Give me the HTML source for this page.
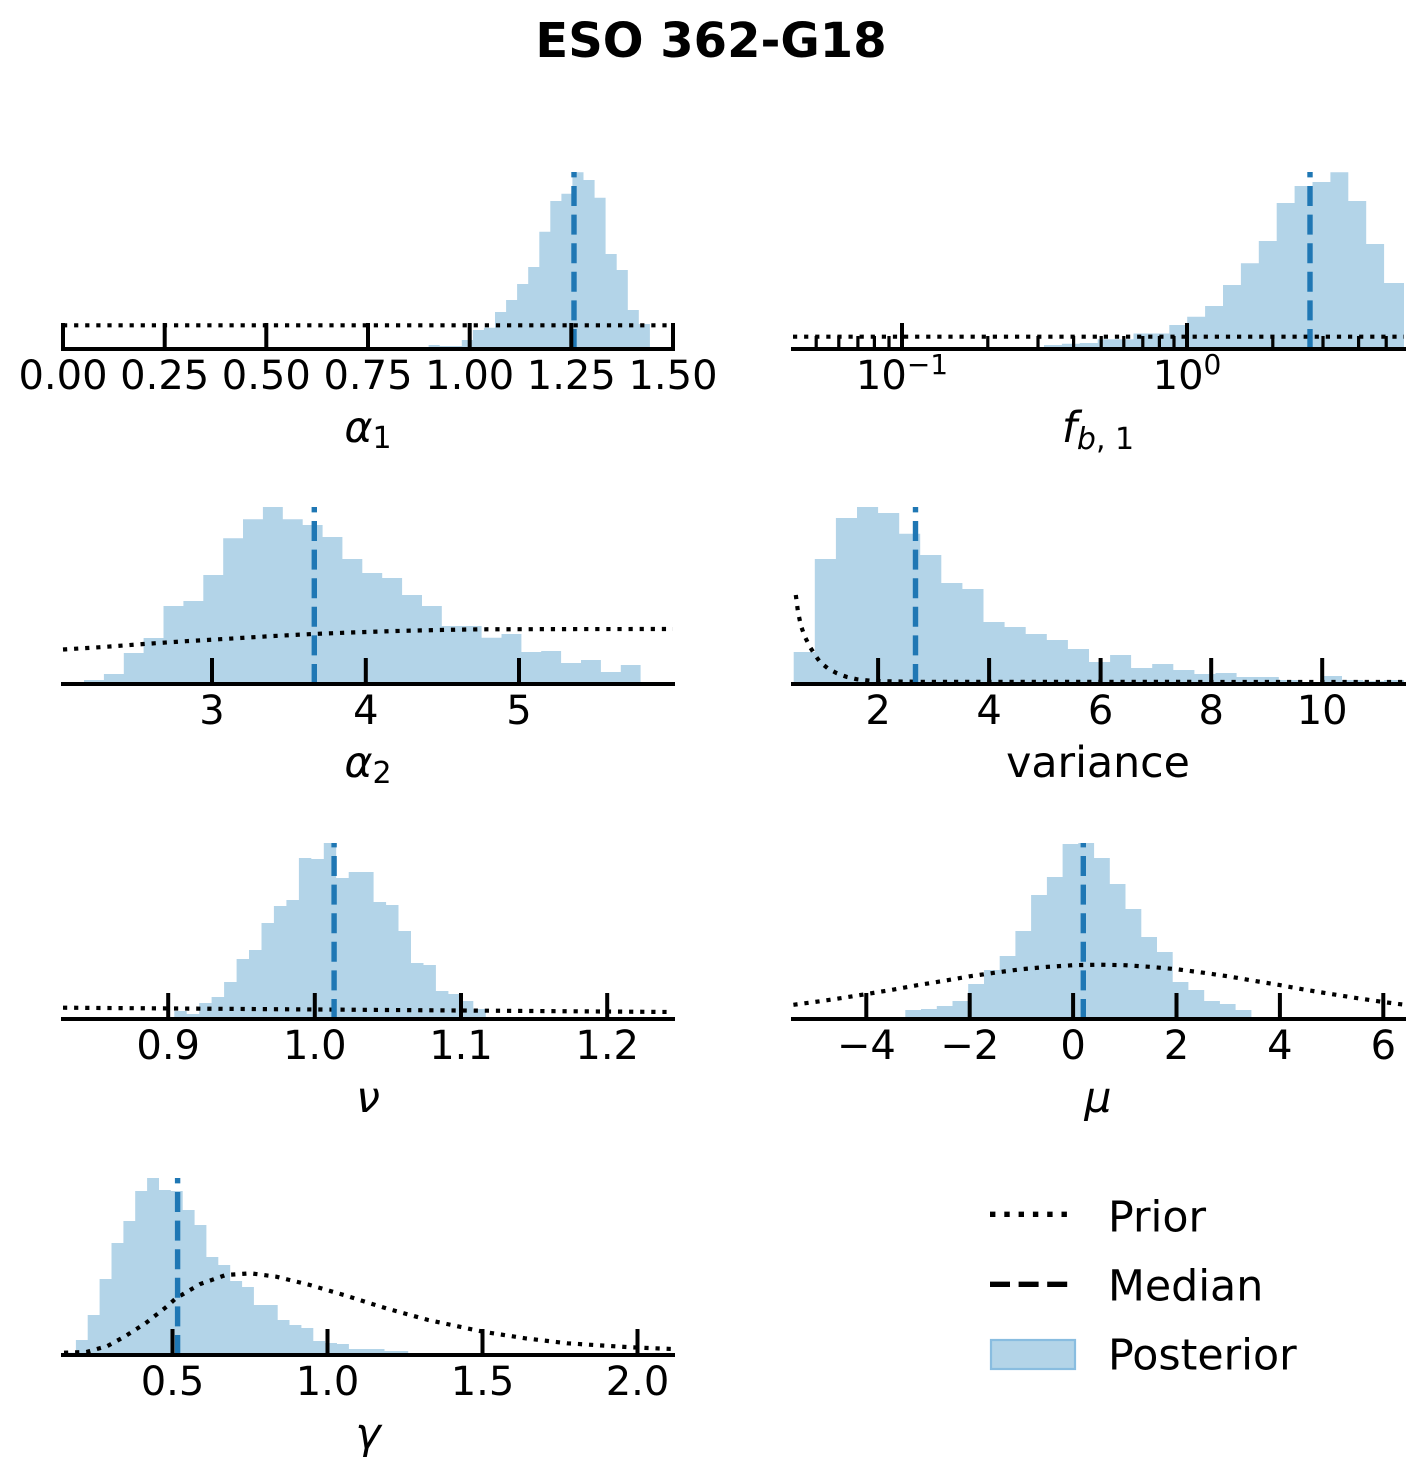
<!DOCTYPE html>
<html><head><meta charset="utf-8"><style>
html,body{margin:0;padding:0;background:#fff;}
svg{display:block;}
text{font-family:"DejaVu Sans","Liberation Sans",sans-serif;fill:#000;}
</style></head><body>
<svg width="1422" height="1476" viewBox="0 0 1422 1476" xmlns="http://www.w3.org/2000/svg">
<rect width="1422" height="1476" fill="#fff"/>
<text x="711" y="57" text-anchor="middle" font-size="48" font-weight="bold">ESO 362-G18</text>

<!-- histograms -->
<g fill="#b3d4e8" stroke="none">
<path d="M395.5,349V347.3H428.6V345H439.7V346H461.8V340H472.9V330H483.9V327.7H495V312H506.1V300H517.1V284H528.2V267H539.3V231.7H550.3V201H561.4V193.7H572.4V172.3H583.5V180H594.6V197.7H605.6V254H616.7V270H627.8V310H638.8V324H649.9V349Z"/>
<path d="M990.3,349V347.3H1026.1V349H1044V345H1061.9V343.7H1079.8V343H1097.7V339.3H1133.5V333.5H1169.3V325H1187.2V316.7H1205.1V306H1223V285H1240.9V263.3H1258.8V241H1276.7V203H1294.6V186H1312.5V182H1330.4V172.3H1348.3V201H1366.2V244H1384.1V283H1404V349Z"/>
<path d="M84,684V680H103.9V674H123.8V653H143.6V638H163.5V606H183.4V601H203.3V575H223.2V538.3H243V519.3H262.9V507H282.8V519.3H302.7V525H322.6V537H342.4V559H362.3V573H382.2V578H402.1V595H422V606H441.8V626H481.6V637.7H501.5V634H521.4V652H541.2V651H561.1V663H581V660H600.9V672H620.8V665H640.6V684Z"/>
<path d="M793.7,684V652H814.8V559H835.9V518H857V507H878.1V513H899.2V533.7H920.2V555H941.3V583H962.4V589H983.5V622H1004.6V627H1025.7V634H1046.8V640H1067.9V649H1089V662H1110.1V655H1131.1V668H1152.2V664H1173.3V670H1194.4V674H1215.5V673H1236.6V677H1278.8V680H1299.9V682H1321V676H1342V680H1363.1V681.3H1384.2V680H1404V684Z"/>
<path d="M161.8,1019V1017.3H174.3V1011H186.7V1014H199.2V1003H211.6V997H224.1V982H236.6V959H249V950H261.5V923H273.9V906H286.4V900H298.9V858H311.3V859H323.8V843H336.2V878H348.7V872H373.6V902H386.1V905H398.5V931H411V963H423.5V965H435.9V991H448.4V994H460.8V1001H473.3V1009H485.8V1019Z"/>
<path d="M858.1,1019V1017.3H889.6V1019H905.3V1010H921V1009H936.8V1006H952.5V1001H968.2V984H984V970H999.7V956H1015.4V931H1031.1V895H1046.9V877H1062.6V844H1078.3V843H1094.1V858H1109.8V884H1125.5V909H1141.3V937H1157V952H1172.7V982H1188.4V990H1204.2V1001H1219.9V1004H1235.6V1010H1251.4V1019Z"/>
<path d="M64,1355V1352.7H75.9V1340H87.7V1315H99.6V1279H111.5V1243H123.4V1221H135.2V1191H147.1V1178H159V1190H170.8V1191H182.7V1210H194.6V1225H206.4V1257H218.3V1265H230.2V1281H242.1V1287H253.9V1305H277.7V1320H289.5V1325H301.4V1328H313.3V1341H325.1V1343H337V1344H348.9V1349H384.5V1351H408.2V1355Z"/>
</g>

<!-- priors -->
<g fill="none" stroke="#000" stroke-width="4.2" stroke-dasharray="4.2 6.9">
<line x1="63" y1="325.3" x2="673" y2="325.3"/>
<line x1="793" y1="336.7" x2="1404" y2="336.7"/>
<polyline points="63,649.5 103,647 143.6,644 186,641.2 228.8,638.7 270,636.2 312.6,634 354,632.4 396.5,631 438,630 480.4,629.3 560,629.1 673,629"/>
<polyline points="795.8,595 798,612 801,626 805,637 810,647 815,655 820,662 828,668.5 837,673.3 847,677 857,679.3 870,680.7 885,681.3 920,681.8 1404,682"/>
<line x1="63" y1="1007.7" x2="673" y2="1012"/>
<polyline points="793.4,1004.8 814.6,1002 840.5,998.2 866.3,994.1 892,989.8 918,985.1 944,980.8 969.7,976.3 995.5,972.6 1021.4,969.2 1047,966.9 1073.1,965.2 1099,964.7 1124.8,965.2 1150.7,966.9 1176.5,969.2 1202.3,972.6 1228.2,976.3 1254,980.8 1279.9,985.1 1305.7,989.8 1331.6,994.1 1357.5,998.2 1383.3,1002 1405,1004.8"/>
<polyline points="64,1352.7 86.4,1352 107.5,1346 124.4,1336.7 145.5,1323.3 166.6,1306.7 175.9,1298.3 200.3,1284 225.7,1275 251,1273.3 276.3,1276.7 310,1285 343.8,1295 386,1308.3 428.2,1320 483,1331.7 525.2,1338.3 567.4,1343.3 630.7,1347.3 673,1349"/>
</g>

<!-- medians -->
<g stroke="#1f77b4" stroke-width="5.4" stroke-dasharray="20 8.6" fill="none">
<line x1="574" y1="349" x2="574" y2="172"/>
<line x1="1310" y1="349" x2="1310" y2="172"/>
<line x1="314.3" y1="684" x2="314.3" y2="507"/>
<line x1="915.5" y1="684" x2="915.5" y2="507"/>
<line x1="334.1" y1="1019" x2="334.1" y2="843"/>
<line x1="1083.3" y1="1019" x2="1083.3" y2="843"/>
<line x1="177.6" y1="1355" x2="177.6" y2="1178"/>
</g>

<!-- spines -->
<g stroke="#000" stroke-width="4" stroke-linecap="square">
<line x1="63" y1="349" x2="673" y2="349"/>
<line x1="793" y1="349" x2="1404" y2="349"/>
<line x1="63" y1="684" x2="673" y2="684"/>
<line x1="793" y1="684" x2="1404" y2="684"/>
<line x1="63" y1="1019" x2="673" y2="1019"/>
<line x1="793" y1="1019" x2="1404" y2="1019"/>
<line x1="63" y1="1355" x2="673" y2="1355"/>
</g>

<!-- ticks -->
<g stroke="#000" stroke-width="4">
<path d="M63,349V323M164.7,349V323M266.3,349V323M368,349V323M469.7,349V323M571.3,349V323M673,349V323"/>
<path d="M902,349V323M1187,349V323"/>
<path d="M816.2,349V336M838.8,349V336M857.9,349V336M874.4,349V336M889,349V336M987.8,349V336M1038,349V336M1073.6,349V336M1101.2,349V336M1123.8,349V336M1142.8,349V336M1159.4,349V336M1174,349V336M1272.8,349V336M1323,349V336M1358.6,349V336M1386.2,349V336" stroke-width="3.2"/>
<path d="M212,684V658M365.8,684V658M519,684V658"/>
<path d="M878.1,684V658M989.1,684V658M1100.6,684V658M1211.2,684V658M1322.2,684V658"/>
<path d="M168.2,1019V993M314.8,1019V993M461,1019V993M607.2,1019V993"/>
<path d="M866.3,1019V993M969.7,1019V993M1073.1,1019V993M1176.5,1019V993M1279.9,1019V993M1383.3,1019V993"/>
<path d="M172.5,1355V1329M327.5,1355V1329M482.5,1355V1329M637.5,1355V1329"/>
</g>

<!-- tick labels -->
<g font-size="40" text-anchor="middle">
<text x="63" y="389">0.00</text>
<text x="164.7" y="389">0.25</text>
<text x="266.3" y="389">0.50</text>
<text x="368" y="389">0.75</text>
<text x="469.7" y="389">1.00</text>
<text x="571.3" y="389">1.25</text>
<text x="673" y="389">1.50</text>
<text x="902" y="389">10<tspan font-size="28" dy="-15">−1</tspan></text>
<text x="1187" y="389">10<tspan font-size="28" dy="-15">0</tspan></text>
<text x="212" y="724">3</text>
<text x="365.8" y="724">4</text>
<text x="519" y="724">5</text>
<text x="878.1" y="724">2</text>
<text x="989.1" y="724">4</text>
<text x="1100.6" y="724">6</text>
<text x="1211.2" y="724">8</text>
<text x="1322.2" y="724">10</text>
<text x="168.2" y="1059">0.9</text>
<text x="314.8" y="1059">1.0</text>
<text x="461" y="1059">1.1</text>
<text x="607.2" y="1059">1.2</text>
<text x="866.3" y="1059">−4</text>
<text x="969.7" y="1059">−2</text>
<text x="1073.1" y="1059">0</text>
<text x="1176.5" y="1059">2</text>
<text x="1279.9" y="1059">4</text>
<text x="1383.3" y="1059">6</text>
<text x="172.5" y="1395">0.5</text>
<text x="327.5" y="1395">1.0</text>
<text x="482.5" y="1395">1.5</text>
<text x="637.5" y="1395">2.0</text>
</g>

<!-- axis labels -->
<g font-size="42.7" text-anchor="middle">
<text x="368" y="442"><tspan font-style="italic">α</tspan><tspan font-size="30" dy="6">1</tspan></text>
<text x="1098" y="442"><tspan font-style="italic">f</tspan><tspan font-size="30" dy="7"><tspan font-style="italic">b</tspan>, 1</tspan></text>
<text x="368" y="777"><tspan font-style="italic">α</tspan><tspan font-size="30" dy="6">2</tspan></text>
<text x="1098" y="777">variance</text>
<text x="368" y="1112" font-style="italic">ν</text>
<text x="1098" y="1112" font-style="italic">μ</text>
<text x="368" y="1448" font-style="italic">γ</text>
</g>

<!-- legend -->
<line x1="990" y1="1214.3" x2="1075" y2="1214.3" stroke="#000" stroke-width="5.4" stroke-dasharray="5.4 8.9"/>
<line x1="990" y1="1284.3" x2="1075" y2="1284.3" stroke="#000" stroke-width="5.4" stroke-dasharray="20 8.6"/>
<rect x="991" y="1340" width="84" height="29" fill="#b3d4e8" stroke="#89bde0" stroke-width="2.2"/>
<g font-size="42.7">
<text x="1108" y="1231.5">Prior</text>
<text x="1108" y="1300.5">Median</text>
<text x="1108" y="1369.5">Posterior</text>
</g>
</svg>
</body></html>
